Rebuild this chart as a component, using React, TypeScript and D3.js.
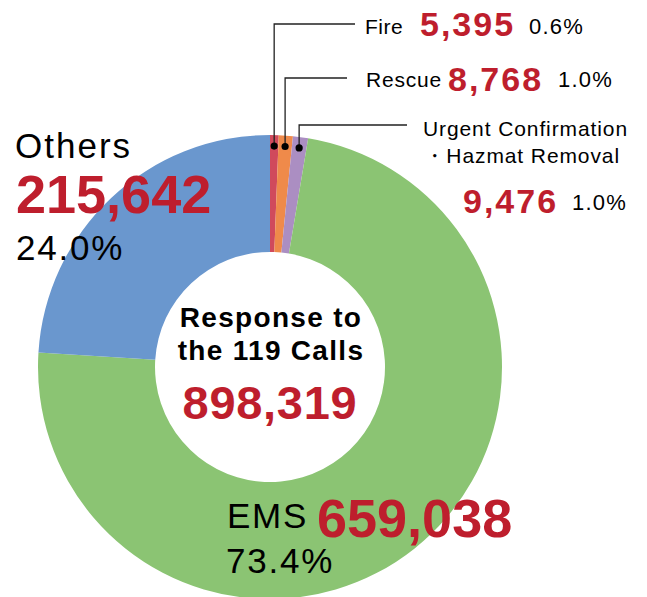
import * as d3 from 'd3'

// Response to the 119 calls, by type
const categories = ['Fire', 'Rescue', 'Urgent Confirmation・Hazmat Removal', 'EMS', 'Others']
const counts = [5395, 8768, 9476, 659038, 215642]
const shares = ['0.6%', '1.0%', '1.0%', '73.4%', '24.0%']
const colors = ['#D04A5C', '#EF8A4A', '#AB8EC2', '#8BC473', '#6A97CE']
const centerTitle = ['Response to', 'the 119 Calls']

const W = 647
const H = 597
const cx = 270
const cy = 367
const outerR = 232
const innerR = 115
const RED = '#BE1E2D'
const FONT = '"Liberation Sans", Arial, Helvetica, sans-serif'

// leader lines for the three thin slices: elbow height and end x
const leaders = [
  { y: 24, x2: 355 },
  { y: 78, x2: 347 },
  { y: 125, x2: 407 },
]

export default function App() {
  const fmt = d3.format(',')
  const total = d3.sum(counts)

  const pie = d3
    .pie<number>()
    .sort(null)
    .value((d: number) => d)
  const arcs = pie(counts)

  const arc = d3
    .arc<d3.PieArcDatum<number>>()
    .innerRadius(innerR)
    .outerRadius(outerR)

  const dotArc = d3
    .arc<d3.PieArcDatum<number>>()
    .innerRadius(221)
    .outerRadius(221)

  return (
    <svg
      width={W}
      height={H}
      style={{ position: 'absolute', left: 0, top: 0, background: '#fff' }}
      fontFamily={FONT}
    >
      <g transform={`translate(${cx},${cy})`}>
        {arcs.map((a, i) => (
          <path key={categories[i]} d={arc(a) || ''} fill={colors[i]} />
        ))}
      </g>

      {/* leader lines + dots */}
      {leaders.map((l, i) => {
        const [dx, dy] = dotArc.centroid(arcs[i])
        const x = cx + dx
        const y = cy + dy
        return (
          <g key={i}>
            <path
              d={`M${x},${y}V${l.y}H${l.x2}`}
              fill="none"
              stroke="#222"
              strokeWidth={1.3}
            />
            <circle cx={x} cy={y} r={3.6} fill="#000" />
          </g>
        )
      })}

      {/* Fire */}
      <text x={365} y={34} fontSize={21} letterSpacing={0.5}>
        {categories[0]}
      </text>
      <text x={420} y={36} fontSize={34} fontWeight="bold" fill={RED} letterSpacing={2}>
        {fmt(counts[0])}
      </text>
      <text x={529} y={34} fontSize={22} letterSpacing={1.2}>
        {shares[0]}
      </text>

      {/* Rescue */}
      <text x={366} y={87} fontSize={21} letterSpacing={0.8}>
        {categories[1]}
      </text>
      <text x={448} y={91} fontSize={34} fontWeight="bold" fill={RED} letterSpacing={2}>
        {fmt(counts[1])}
      </text>
      <text x={558} y={87} fontSize={22} letterSpacing={1.2}>
        {shares[1]}
      </text>

      {/* Urgent confirmation / hazmat */}
      <text x={423} y={136} fontSize={21} letterSpacing={0.9}>
        {categories[2].split('・')[0]}
      </text>
      <text x={620} y={163} fontSize={21} letterSpacing={0.9} textAnchor="end">
        {'・' + categories[2].split('・')[1]}
      </text>
      <text x={463} y={213} fontSize={34} fontWeight="bold" fill={RED} letterSpacing={2}>
        {fmt(counts[2])}
      </text>
      <text x={572} y={210} fontSize={22} letterSpacing={1.2}>
        {shares[2]}
      </text>

      {/* Others */}
      <text x={15} y={158} fontSize={35} letterSpacing={2}>
        {categories[4]}
      </text>
      <text x={16} y={213} fontSize={54} fontWeight="bold" fill={RED}>
        {fmt(counts[4])}
      </text>
      <text x={16} y={260} fontSize={35} letterSpacing={1.8}>
        {shares[4]}
      </text>

      {/* EMS */}
      <text x={227} y={528} fontSize={35} letterSpacing={1.7}>
        {categories[3]}
      </text>
      <text x={317} y={537} fontSize={54} fontWeight="bold" fill={RED}>
        {fmt(counts[3])}
      </text>
      <text x={226} y={573} fontSize={35} letterSpacing={1.8}>
        {shares[3]}
      </text>

      {/* centre */}
      {centerTitle.map((t, i) => (
        <text
          key={t}
          x={cx + 1}
          y={327 + i * 33}
          fontSize={28}
          fontWeight="bold"
          textAnchor="middle"
          letterSpacing={1.3}
        >
          {t}
        </text>
      ))}
      <text
        x={cx}
        y={419}
        fontSize={47}
        fontWeight="bold"
        fill={RED}
        textAnchor="middle"
        letterSpacing={0.7}
      >
        {fmt(total)}
      </text>
    </svg>
  )
}
